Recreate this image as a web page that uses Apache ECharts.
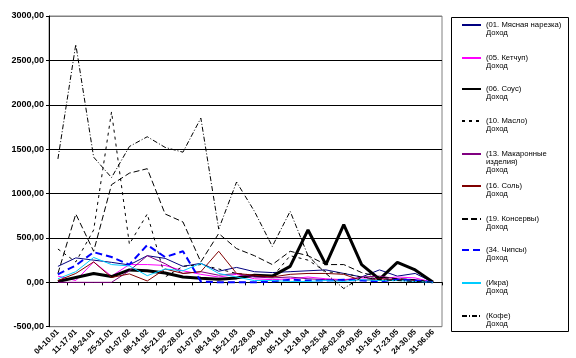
<!DOCTYPE html>
<html><head><meta charset="utf-8">
<script src="https://cdn.jsdelivr.net/npm/echarts@6/dist/echarts.min.js"></script>
<style>html,body{margin:0;padding:0;background:#fff}#c{width:576px;height:358px}</style>
</head><body><div id="c"></div>
<script>
const categories = ['04-10.01','11-17.01','18-24.01','25-31.01','01-07.02','08-14.02','15-21.02','22-28.02','01-07.03','08-14.03','15-21.03','22-28.03','29-04.04','05-11.04','12-18.04','19-25.04','26-02.05','03-09.05','10-16.05','17-23.05','24-30.05','31-06.06'];

const seriesNames = ['(01. Мясная нарезка) Доход','(05. Кетчуп) Доход','(06. Соус) Доход','(10. Масло) Доход','(13. Макаронные изделия) Доход','(16. Соль) Доход','(19. Консервы) Доход','(34. Чипсы) Доход','(Икра) Доход','(Кофе) Доход'];
const legendLabels = ['(01. Мясная нарезка)\nДоход','(05. Кетчуп)\nДоход','(06. Соус)\nДоход','(10. Масло)\nДоход','(13. Макаронные\nизделия)\nДоход','(16. Соль)\nДоход','(19. Консервы)\nДоход','(34. Чипсы)\nДоход','(Икра)\nДоход','(Кофе)\nДоход'];

const myasnaya  = [180, 275, 250, 225, 196, 300, 270, 180, 214, 125, 168, 120, 110, 120, 130, 140, 100, 60, 140, 70, 100, 0];
const ketchup   = [70, 20, 230, 70, 200, 200, 190, 130, 90, 60, 90, 40, 30, 40, 60, 40, 30, 50, 40, 60, 50, 0];
const sous      = [10, 55, 100, 65, 140, 130, 105, 60, 45, 35, 50, 80, 70, 180, 590, 200, 650, 200, 35, 225, 140, 0];
const maslo     = [375, 230, 590, 1920, 430, 770, 60, 180, 200, 150, 100, 80, 60, 300, 250, 120, 100, 60, 40, 30, 20, 0];
const makarony  = [0, 0, 0, 0, 130, 300, 210, 100, 120, 80, 100, 60, 50, 60, 40, 30, 20, 60, 70, 40, 30, 0];
const sol       = [20, 100, 230, 55, 95, 15, 150, 100, 120, 350, 100, 80, 60, 90, 100, 100, 90, 20, 40, 30, 20, 0];
const konservy  = [100, 770, 350, 1100, 1230, 1280, 770, 680, 230, 550, 380, 300, 200, 350, 300, 200, 200, 110, 60, 40, 30, 0];
const chipsy    = [90, 190, 340, 285, 200, 420, 285, 350, 10, 0, 0, 0, 10, 30, 20, 20, 30, 20, 10, 30, 20, 0];
const ikra      = [40, 120, 280, 200, 185, 75, 150, 130, 214, 100, 60, 20, 20, 10, 10, 20, 10, 30, 20, 20, 10, 0];
const kofe      = [1390, 2680, 1410, 1180, 1530, 1640, 1520, 1466, 1850, 600, 1130, 800, 405, 800, 300, 100, -70, 60, 30, 20, 10, 0];

const yMin = -500, yMax = 3000, yStep = 500;

const values = [myasnaya, ketchup, sous, maslo, makarony, sol, konservy, chipsy, ikra, kofe];
const styles = [
  {color:'#000080', width:1, type:'solid'},
  {color:'#FF00FF', width:1, type:'solid'},
  {color:'#000000', width:3, type:'solid'},
  {color:'#000000', width:1, type:[3,4]},
  {color:'#800080', width:1, type:'solid'},
  {color:'#800000', width:1, type:'solid'},
  {color:'#000000', width:1, type:[6,3]},
  {color:'#0000FF', width:2, type:[7,4]},
  {color:'#00CCFF', width:1, type:'solid'},
  {color:'#000000', width:1, type:[5,2,1,2]}
];
const legendCenters = [25, 58, 89, 121, 154, 186, 219, 250, 283, 316];
const FONT = "'Liberation Sans', Arial, sans-serif";
const LH = 8;

const series = seriesNames.map((n, i) => ({
  name: n, type: 'line', data: values[i], symbol: 'none', showSymbol: false,
  lineStyle: styles[i], itemStyle: {color: styles[i].color},
  emphasis: {disabled: true}, silent: true
}));

const legends = seriesNames.map((n, i) => {
  const parts = legendLabels[i].split('\n');
  // leading blank lines so the first text line sits level with the line sample
  const blanks = parts.length - 1;
  const text = '\n'.repeat(blanks) + legendLabels[i];
  const total = parts.length + blanks;
  return {
    data: [n], orient: 'vertical', left: 461, top: legendCenters[i] - total * LH / 2,
    padding: 0, itemWidth: 19, itemHeight: 8, selectedMode: false,
    itemStyle: {opacity: 0, borderWidth: 0},
    formatter: () => text,
    textStyle: {fontSize: 7.7, lineHeight: LH, color: '#000', fontFamily: FONT}
  };
});

const chart = echarts.init(document.getElementById('c'), null, {renderer: 'canvas'});
chart.setOption({
  animation: false,
  textStyle: {fontFamily: FONT},
  grid: {left: 49, top: 16, width: 393, height: 326, show: true, borderColor: '#808080', borderWidth: 1, backgroundColor: 'transparent'},
  legend: legends,
  graphic: [{type: 'rect', shape: {x: 451.5, y: 17.5, width: 117, height: 314}, style: {fill: 'none', stroke: '#000', lineWidth: 1}, silent: true}],
  xAxis: {
    type: 'category', data: categories, boundaryGap: true,
    axisLine: {onZero: true, lineStyle: {color: '#000', width: 1}},
    axisTick: {show: true, length: 3, alignWithLabel: false, lineStyle: {color: '#000'}},
    axisLabel: {rotate: 45, interval: 0, fontSize: 8, fontWeight: 'bold', color: '#000', margin: 4, fontFamily: FONT},
    splitLine: {show: false}
  },
  yAxis: {
    type: 'value', min: yMin, max: yMax, interval: yStep,
    axisLine: {show: true, lineStyle: {color: '#000', width: 1}},
    axisTick: {show: true, length: 3, lineStyle: {color: '#000'}},
    axisLabel: {fontSize: 9, fontWeight: 'bold', color: '#000', margin: 5, fontFamily: FONT,
      formatter: v => v.toFixed(2).replace('.', ',')},
    splitLine: {show: true, lineStyle: {color: ['#808080','#000','#000','#000','#000','#000','#000','#808080'], width: 1}}
  },
  series: series
});
</script></body></html>
